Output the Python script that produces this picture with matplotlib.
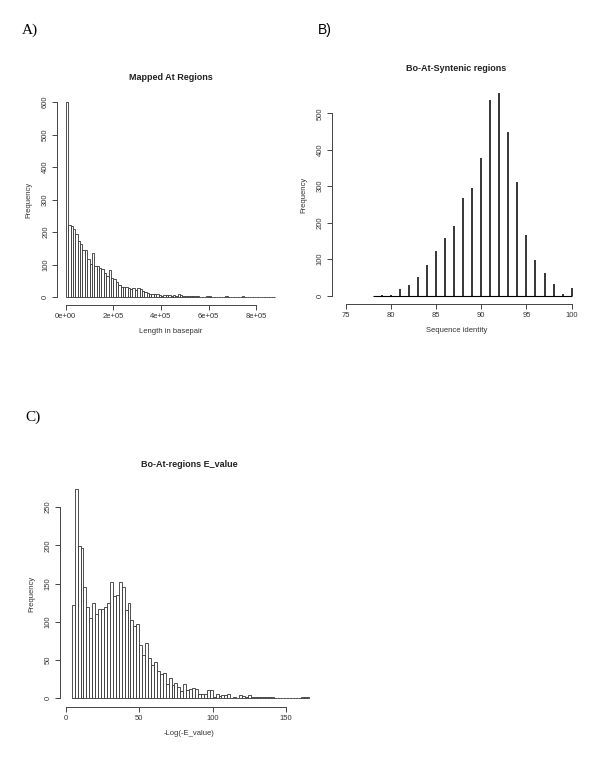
import matplotlib
matplotlib.use("Agg")
import matplotlib.pyplot as plt
import numpy as np

# panel A: Mapped At Regions, bins of 1e4 bp starting at 0
len_bin_width = 1e4
len_counts = [600, 222, 217, 208, 194, 173, 163, 146, 146, 116, 102, 136, 96, 94, 89, 86,
              75, 66, 83, 57, 56, 45, 37, 30, 31, 32, 28, 25, 27, 20, 28, 25, 17, 15, 13, 10,
              9, 8, 8, 5, 4, 7, 7, 6, 4, 6, 4, 8, 6, 4, 3, 3, 2, 3, 2, 3, 1, 1, 1, 2,
              2, 1, 1, 1, 1, 0, 1, 2, 1, 1, 0, 1, 1, 1, 2, 0, 0, 0, 1, 0, 0, 1, 1, 1,
              1, 1, 1, 1]
len_ticks = [0, 2e5, 4e5, 6e5, 8e5]
len_ticklabels = ["0e+00", "2e+05", "4e+05", "6e+05", "8e+05"]

# panel B: Bo-At-Syntenic regions, sequence identity (integer values)
identity = np.arange(78, 101)
identity_counts = [0, 2, 3, 17, 30, 52, 83, 123, 159, 190, 269, 296, 377, 536, 555,
                   449, 311, 167, 99, 63, 33, 5, 20]
identity_ticks = [75, 80, 85, 90, 95, 100]

# panel C: Bo-At-regions E_value, bins of 2 starting at 4
ev_start, ev_bin_width = 4, 2
ev_counts = [122, 273, 199, 197, 146, 119, 105, 124, 110, 117, 117, 119, 124, 152, 134, 135,
             152, 146, 116, 125, 102, 95, 97, 70, 57, 72, 53, 44, 47, 36, 32, 33, 19, 26,
             17, 20, 15, 10, 18, 11, 12, 14, 12, 6, 6, 5, 11, 11, 1, 5, 3, 4, 4, 5, 0, 1,
             0, 4, 3, 1, 4, 1, 1, 2, 2, 1, 2, 2, 1, 0, 0, 0, 0, 0, 0, 0, 0, 0, 1, 1, 1]
ev_ticks = [0, 50, 100, 150]

plt.rcParams['font.family'] = ['Liberation Sans', 'DejaVu Sans']
txt = '#333333'
line = '#444444'

fig = plt.figure(figsize=(6, 7.73), dpi=100)


def r_style(ax, xticks, yticks, xlabels=None):
    for s in ['top', 'right']:
        ax.spines[s].set_visible(False)
    for s in ['left', 'bottom']:
        ax.spines[s].set_color(line)
        ax.spines[s].set_linewidth(0.7)
    ax.spines['left'].set_bounds(yticks[0], yticks[-1])
    ax.spines['bottom'].set_bounds(xticks[0], xticks[-1])
    ax.set_xticks(xticks)
    if xlabels is not None:
        ax.set_xticklabels(xlabels)
    ax.set_yticks(yticks)
    ax.tick_params(length=3.5, width=0.7, color=line, labelsize=5.5, labelcolor=txt, pad=2.5)
    ax.tick_params(axis='y', labelrotation=90)
    for lab in ax.get_yticklabels():
        lab.set_va('center')


# A
axA = fig.add_axes([0.0957, 0.6057, 0.377, 0.2724])
edges = np.arange(len(len_counts)) * len_bin_width
axA.bar(edges, len_counts, width=len_bin_width, align='edge', color='white',
        edgecolor='#333333', linewidth=0.6)
axA.set_xlim(-3.5e4, 9.15e5)
axA.set_ylim(-24, 624)
r_style(axA, len_ticks, [0, 100, 200, 300, 400, 500, 600], len_ticklabels)
axA.set_title("Mapped At Regions", fontsize=6.5, fontweight='bold', pad=10, color='#222222')
axA.set_xlabel("Length in basepair", fontsize=5.5, color=txt, labelpad=6)
axA.set_ylabel("Frequency", fontsize=5.5, color=txt, labelpad=7)

# B
axB = fig.add_axes([0.5533, 0.6071, 0.4145, 0.2827])
axB.vlines(identity, 0, identity_counts, color='black', linewidth=1.1)
axB.hlines(0, identity.min(), identity.max(), color='black', linewidth=0.8)
axB.set_xlim(73.5, 101)
axB.set_ylim(-22, 577)
r_style(axB, identity_ticks, [0, 100, 200, 300, 400, 500])
axB.set_title("Bo-At-Syntenic regions", fontsize=6.5, fontweight='bold', pad=10, color='#222222')
axB.set_xlabel("Sequence identity", fontsize=5.5, color=txt, labelpad=6)
axB.set_ylabel("Frequency", fontsize=5.5, color=txt, labelpad=7)

# C
axC = fig.add_axes([0.1, 0.0858, 0.4305, 0.2919])
ev_edges = ev_start + np.arange(len(ev_counts)) * ev_bin_width
axC.bar(ev_edges, ev_counts, width=ev_bin_width, align='edge', color='white',
        edgecolor='#333333', linewidth=0.6)
axC.set_xlim(-4, 172)
axC.set_ylim(-11, 284)
r_style(axC, ev_ticks, [0, 50, 100, 150, 200, 250])
axC.set_title("Bo-At-regions E_value", fontsize=6.5, fontweight='bold', pad=10, color='#222222')
axC.set_xlabel("-Log(-E_value)", fontsize=5.5, color=txt, labelpad=6)
axC.set_ylabel("Frequency", fontsize=5.5, color=txt, labelpad=7)

# panel letters
fig.text(22 / 600, 1 - 30 / 773, "A)", fontsize=11, family='Liberation Serif', va='center')
fig.text(318 / 600, 1 - 30 / 773, "B)", fontsize=10, family='Liberation Sans', va='center')
fig.text(25 / 600, 1 - 417 / 773, "C)", fontsize=11, family='Liberation Serif', va='center')

fig.savefig("out.png", dpi=100)
